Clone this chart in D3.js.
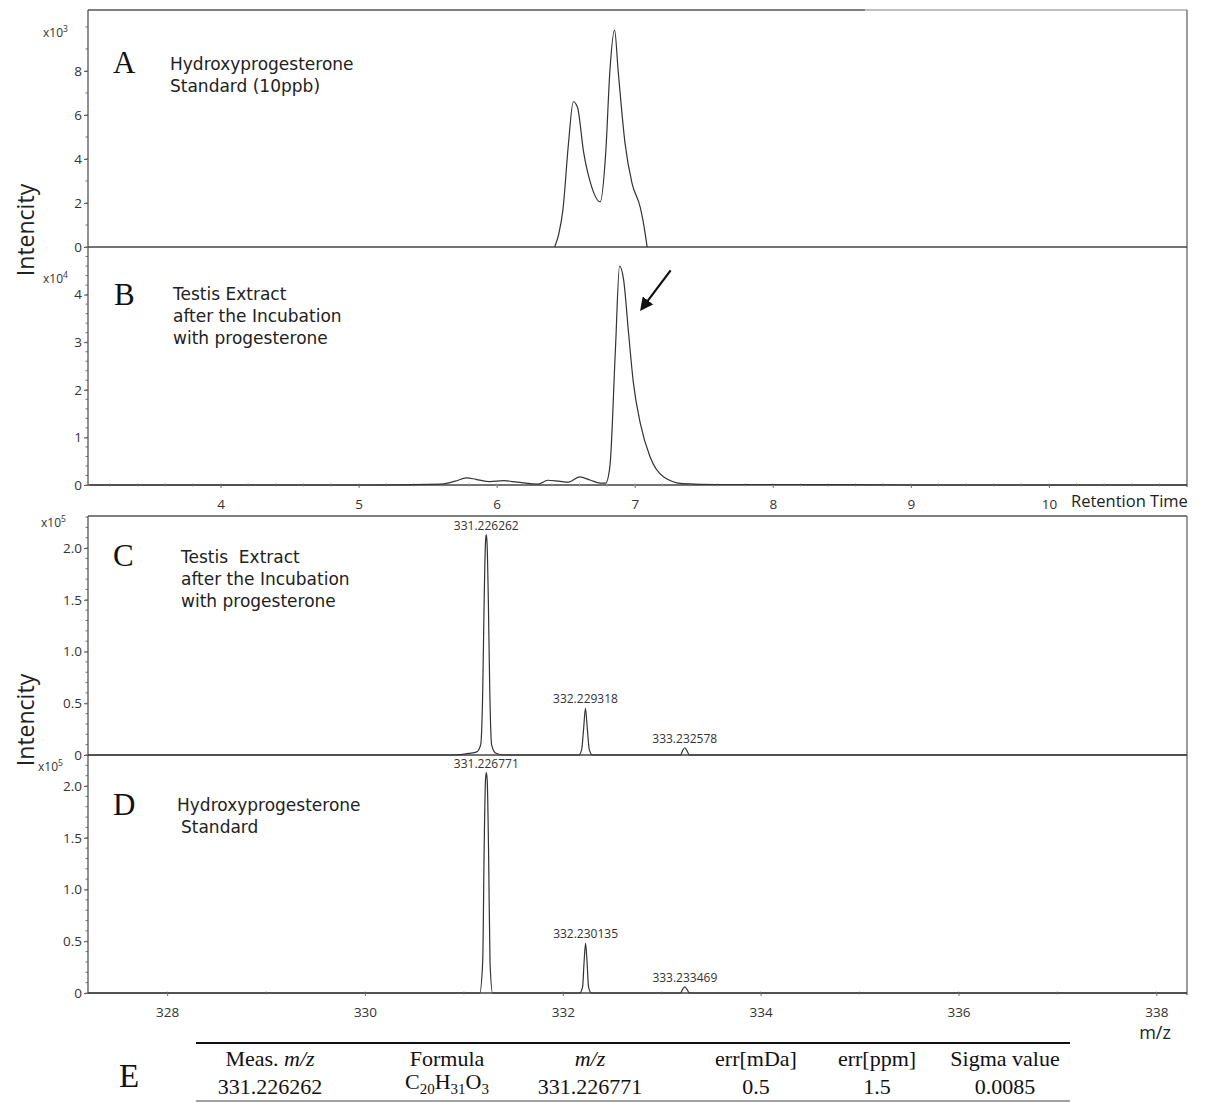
<!DOCTYPE html>
<html>
<head>
<meta charset="utf-8">
<script src="https://cdn.jsdelivr.net/npm/d3@7"></script>
<style>
  body { margin: 0; background: #fff; }
  svg text { font-family: "Open Sans", "Noto Sans", sans-serif; fill: #222; }
  svg text.desc { font-family: "DejaVu Sans", sans-serif; }
  .serif { font-family: "Liberation Serif", "DejaVu Serif", serif !important; }
</style>
</head>
<body>
<div id="chart"></div>
<script>
// Panel A: hydroxyprogesterone standard chromatogram (x10^3)
const rtA  = [6.42, 6.45, 6.48, 6.52, 6.555, 6.585, 6.63, 6.68, 6.75, 6.79, 6.82, 6.854, 6.88, 6.93, 6.98, 7.04, 7.06, 7.09];
const intA = [0,    0.6,  1.7,  4.7,  6.6,   6.35,  4.3,  2.9,  2.05, 4.3,  8.0,  9.86,  8.0,  4.7,  2.9,  1.8,  1.2,  0];

// Panel B: testis extract chromatogram (x10^4)
const rtB  = [3.05, 4.0, 5.0, 5.6, 5.7, 5.78, 5.85, 5.95, 6.05, 6.15, 6.3, 6.37, 6.45, 6.52, 6.6, 6.68, 6.75, 6.79, 6.82, 6.86, 6.89, 6.92, 6.955, 6.99, 7.04, 7.11, 7.21, 7.35, 7.6, 8.2, 9.0, 10.0, 11.0];
const intB = [0,    0,   0,   0.02, 0.08, 0.15, 0.12, 0.07, 0.09, 0.06, 0.02, 0.1, 0.08, 0.06, 0.17, 0.1, 0.04, 0.04, 0.39, 2.84, 4.6, 4.3, 3.2,  2.15, 1.3, 0.6, 0.17, 0.03, 0.01, 0.01, 0, 0, 0];
const arrowB = [[7.26, 4.51], [7.05, 3.7]];

// Panel C: mass spectrum of testis extract (x10^5)
const mzC  = [327.2, 330.9, 331.05, 331.13, 331.17, 331.19, 331.205, 331.218, 331.226, 331.234, 331.247, 331.262, 331.28, 331.32, 331.4,
              332.16, 332.19, 332.21, 332.229, 332.248, 332.268, 332.30, 333.19, 333.21, 333.233, 333.256, 333.28, 338.31];
const intC = [0,     0,     0.015,  0.03,   0.1,    0.6,    1.5,     2.05,    2.13,    2.05,    1.5,     0.6,     0.1,    0.02,   0,
              0,      0.05,   0.25,   0.45,    0.25,    0.05,    0,      0,      0.04,   0.07,    0.04,    0,      0];
const peakMzC  = [331.226262, 332.229318, 333.232578];
const peakIntC = [2.13, 0.45, 0.07];

// Panel D: mass spectrum of standard (x10^5)
const mzD  = [327.2, 331.16, 331.19, 331.205, 331.218, 331.227, 331.236, 331.249, 331.264, 331.29,
              332.17, 332.2, 332.215, 332.23, 332.245, 332.26, 332.29, 333.19, 333.21, 333.233, 333.256, 333.28, 338.31];
const intD = [0,     0,      0.3,    1.4,     2.05,    2.13,    2.05,    1.4,     0.3,     0,
              0,      0.06,  0.3,     0.48,   0.3,     0.06,   0,      0,      0.035,  0.06,    0.035,   0,      0];
const peakMzD  = [331.226771, 332.230135, 333.233469];
const peakIntD = [2.13, 0.48, 0.06];

// Table E
const tableHead = ["Meas. m/z", "Formula", "m/z", "err[mDa]", "err[ppm]", "Sigma value"];
const tableRow  = ["331.226262", "C20H31O3", "331.226771", "0.5", "1.5", "0.0085"];

const W = 1205, H = 1102;
const L = 88, R = 1187;
const svg = d3.select("#chart").append("svg").attr("width", W).attr("height", H);

const xRT = d3.scaleLinear().domain([3.04, 11.0]).range([L, R]);
const xMZ = d3.scaleLinear().domain([327.2, 338.31]).range([L, R]);
const yA = d3.scaleLinear().domain([0, 10.77]).range([247, 10]);
const yB = d3.scaleLinear().domain([0, 5.0]).range([485, 247]);
const yC = d3.scaleLinear().domain([0, 2.31]).range([755, 516]);
const yD = d3.scaleLinear().domain([0, 2.30]).range([993, 755]);

const lineCol = "#333";

// frames
function frame(top, bottom, topSplit) {
  svg.append("line").attr("x1", L).attr("x2", topSplit).attr("y1", top).attr("y2", top)
    .attr("stroke", "#555").attr("stroke-width", 1.3);
  svg.append("line").attr("x1", topSplit).attr("x2", R).attr("y1", top).attr("y2", top)
    .attr("stroke", "#aaa").attr("stroke-width", 1.3);
  svg.append("line").attr("x1", R).attr("x2", R).attr("y1", top).attr("y2", bottom)
    .attr("stroke", "#666").attr("stroke-width", 1.3);
}
frame(10, 487, 865);
frame(516, 995, 1187);

// left y axes with major labelled ticks + minor ticks
function yAxis(y, major, minorStep, fmt) {
  const d1 = y.domain()[1];
  const g = svg.append("g").attr("transform", `translate(${L},0)`);
  g.call(d3.axisLeft(y).tickValues(major).tickSize(4).tickPadding(2).tickFormat(fmt));
  g.select(".domain").remove();
  g.selectAll("text").attr("font-size", 13.5).style("fill", "#333");
  g.selectAll(".tick line").attr("stroke", "#555");
  const minor = d3.range(0, d1 + 1e-9, minorStep);
  g.selectAll(".minor").data(minor).join("line").attr("class", "minor")
    .attr("x1", -2.5).attr("x2", 0).attr("y1", d => y(d)).attr("y2", d => y(d))
    .attr("stroke", "#777");
  svg.append("line").attr("x1", L).attr("x2", L).attr("y1", y.range()[1]).attr("y2", y.range()[0])
    .attr("stroke", "#555").attr("stroke-width", 1.3);
}
yAxis(yA, [0, 2, 4, 6, 8], 1, d3.format("d"));
yAxis(yB, [0, 1, 2, 3, 4], 0.2, d3.format("d"));
yAxis(yC, [0, 0.5, 1.0, 1.5, 2.0], 0.1, d => d === 0 ? "0" : d3.format(".1f")(d));
yAxis(yD, [0, 0.5, 1.0, 1.5, 2.0], 0.1, d => d === 0 ? "0" : d3.format(".1f")(d));

// baselines
[yA, yB, yC, yD].forEach(y => {
  svg.append("line").attr("x1", L).attr("x2", R).attr("y1", y(0)).attr("y2", y(0))
    .attr("stroke", "#444").attr("stroke-width", 1.5);
});

// multiplier labels
function mult(yPos, xPos, exp) {
  const t = svg.append("text").attr("x", xPos).attr("y", yPos).attr("font-size", 12).style("fill", "#333");
  t.append("tspan").text("x10");
  t.append("tspan").attr("dy", -5).attr("font-size", 8.5).text(exp);
}
mult(37, 43, "3");
mult(283, 43, "4");
mult(527, 41, "5");
mult(771, 38, "5");

// bottom x axes
function xAxis(x, y0, major, minorStep, fmt) {
  const g = svg.append("g").attr("transform", `translate(0,${y0})`);
  g.call(d3.axisBottom(x).tickValues(major).tickSize(3).tickPadding(11).tickFormat(fmt));
  g.select(".domain").remove();
  g.selectAll("text").attr("font-size", 13.5).style("fill", "#333");
  g.selectAll(".tick line").attr("stroke", "#777");
  const [d0, d1] = x.domain();
  const minor = d3.range(Math.ceil(d0 / minorStep) * minorStep, d1, minorStep);
  g.selectAll(".minor").data(minor).join("line").attr("class", "minor")
    .attr("x1", d => x(d)).attr("x2", d => x(d)).attr("y1", -1.5).attr("y2", 1.5)
    .attr("stroke", "#999");
}
xAxis(xRT, 485, [4, 5, 6, 7, 8, 9, 10], 0.2, d3.format("d"));
xAxis(xMZ, 993, [328, 330, 332, 334, 336, 338], 1, d3.format("d"));

svg.append("text").attr("x", 1071).attr("y", 507).attr("font-size", 16.5).text("Retention Time");
svg.append("text").attr("x", 1155).attr("y", 1039).attr("font-size", 18).attr("text-anchor", "middle").text("m/z");

// y titles
[230, 720].forEach(cy => {
  svg.append("text").attr("transform", `translate(34,${cy}) rotate(-90)`)
    .attr("text-anchor", "middle").attr("font-size", 23).text("Intencity");
});

// traces
function trace(x, y, xs, ys, curve) {
  const pts = xs.map((v, i) => [v, ys[i]]);
  svg.append("path").datum(pts)
    .attr("d", d3.line().x(d => x(d[0])).y(d => y(d[1])).curve(curve))
    .attr("fill", "none").attr("stroke", lineCol).attr("stroke-width", 1.2)
    .attr("stroke-linejoin", "round");
}
trace(xRT, yA, rtA, intA, d3.curveMonotoneX);
trace(xRT, yB, rtB, intB, d3.curveMonotoneX);
trace(xMZ, yC, mzC, intC, d3.curveMonotoneX);
trace(xMZ, yD, mzD, intD, d3.curveMonotoneX);

// arrow in B
svg.append("defs").append("marker").attr("id", "ah")
  .attr("viewBox", "0 0 10 10").attr("refX", 8).attr("refY", 5)
  .attr("markerWidth", 6).attr("markerHeight", 6).attr("orient", "auto")
  .append("path").attr("d", "M0,0 L10,5 L0,10 z").attr("fill", "#111");
svg.append("line")
  .attr("x1", xRT(arrowB[0][0])).attr("y1", yB(arrowB[0][1]))
  .attr("x2", xRT(arrowB[1][0])).attr("y2", yB(arrowB[1][1]))
  .attr("stroke", "#111").attr("stroke-width", 2.2).attr("marker-end", "url(#ah)");

// peak labels
function peakLabels(y, mzs, ints) {
  svg.selectAll(null).data(mzs).join("text")
    .attr("x", d => xMZ(d)).attr("y", (d, i) => y(ints[i]) - 5)
    .attr("text-anchor", "middle").attr("font-size", 12).style("fill", "#333")
    .text(d => d.toFixed(6));
}
peakLabels(yC, peakMzC, peakIntC);
peakLabels(yD, peakMzD, peakIntD);

// panel letters and descriptions
function panel(letter, lx, ly, lines, tx, ty) {
  svg.append("text").attr("class", "serif").attr("x", lx).attr("y", ly)
    .attr("font-size", 31).style("fill", "#111").text(letter);
  lines.forEach((s, i) => {
    svg.append("text").attr("class", "desc").attr("x", tx + (s.dx || 0)).attr("y", ty + i * 22)
      .attr("font-size", 17).style("fill", "#222").attr("xml:space", "preserve").text(s.t);
  });
}
panel("A", 113, 73, [{t: "Hydroxyprogesterone"}, {t: "Standard (10ppb)"}], 170, 70);
panel("B", 114, 305, [{t: "Testis Extract"}, {t: "after the Incubation"}, {t: "with progesterone"}], 173, 300);
panel("C", 113, 566, [{t: "Testis  Extract"}, {t: "after the Incubation"}, {t: "with progesterone"}], 181, 563);
panel("D", 113, 815, [{t: "Hydroxyprogesterone"}, {t: "Standard", dx: 4}], 177, 811);

// table E
svg.append("text").attr("class", "serif").attr("x", 119).attr("y", 1087)
  .attr("font-size", 33).style("fill", "#111").text("E");
const colX = [270, 447, 590, 756, 877, 1005];
svg.append("line").attr("x1", 196).attr("x2", 1070).attr("y1", 1043).attr("y2", 1043)
  .attr("stroke", "#111").attr("stroke-width", 2.2);
svg.append("line").attr("x1", 196).attr("x2", 1070).attr("y1", 1101).attr("y2", 1101)
  .attr("stroke", "#444").attr("stroke-width", 1);

function cell(txt, i, yPos) {
  const t = svg.append("text").attr("class", "serif").attr("x", colX[i]).attr("y", yPos)
    .attr("text-anchor", "middle").attr("font-size", 22).style("fill", "#111");
  if (/^[A-Z][A-Za-z0-9]+$/.test(txt) && /[A-Z]\d/.test(txt)) {
    // chemical formula with subscripts
    txt.match(/[A-Z][a-z]?|\d+/g).forEach(p => {
      if (/^\d+$/.test(p)) t.append("tspan").attr("font-size", 15).attr("dy", 5).text(p);
      else t.append("tspan").attr("dy", t.selectAll("tspan").size() ? -5 : 0).text(p);
    });
  } else if (txt.includes("m/z")) {
    const pre = txt.replace("m/z", "");
    if (pre) t.append("tspan").text(pre);
    t.append("tspan").attr("font-style", "italic").text("m/z");
  } else {
    t.text(txt);
  }
}
tableHead.forEach((h, i) => cell(h, i, 1066));
tableRow.forEach((v, i) => cell(v, i, 1094));
</script>
</body>
</html>
